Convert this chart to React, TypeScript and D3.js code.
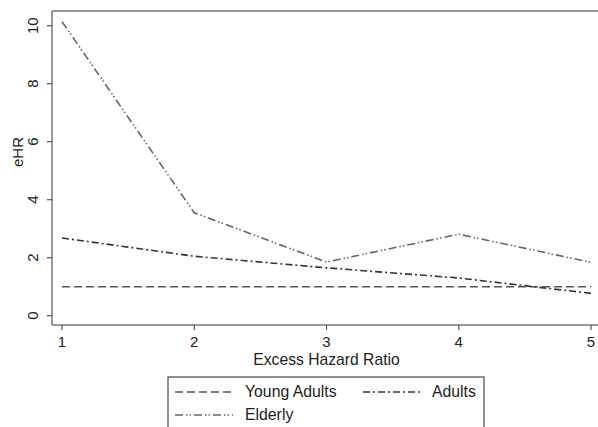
import React from "react";
import * as d3 from "d3";

const xTicks = [1, 2, 3, 4, 5];
const yTicks = [0, 2, 4, 6, 8, 10];
const xValues = [1, 2, 3, 4, 5];
const youngAdults = [1.0, 1.0, 1.0, 1.0, 1.0];
const adults = [2.68, 2.05, 1.65, 1.3, 0.77];
const elderly = [10.14, 3.55, 1.85, 2.81, 1.84];

const seriesNames = ["Young Adults", "Adults", "Elderly"];

export default function App() {
  const W = 598, H = 427;
  const x = d3.scaleLinear().domain([1, 5]).range([62, 591]);
  const y = d3.scaleLinear().domain([0, 10]).range([315.7, 25.7]);
  const line = d3.line<number>().x((_, i) => x(xValues[i])).y((d) => y(d));
  const font = "'Liberation Sans', Arial, Helvetica, sans-serif";
  const styles = [
    { dash: "8,4", color: "#555" },
    { dash: "7,3,2,3", color: "#333" },
    { dash: "8,3,1.5,2,1.5,3", color: "#666" },
  ];
  const data = [youngAdults, adults, elderly];
  const left = 52, top = 11, bottom = 325, right = 598;
  return (
    <svg width={W} height={H} style={{ position: "absolute", left: 0, top: 0, background: "#fff" }}>
      <rect x={0} y={0} width={W} height={H} fill="#fff" />
      {/* frame */}
      <line x1={left} x2={right} y1={top} y2={top} stroke="#777" strokeWidth={1.5} />
      <line x1={left} x2={left} y1={top} y2={bottom} stroke="#777" strokeWidth={1.5} />
      <line x1={left} x2={right} y1={bottom} y2={bottom} stroke="#777" strokeWidth={1.5} />
      {yTicks.map((t) => (
        <g key={"y" + t}>
          <line x1={left - 5} x2={left} y1={y(t)} y2={y(t)} stroke="#555" strokeWidth={1.2} />
          <text
            transform={`translate(${left - 14},${y(t)}) rotate(-90)`}
            textAnchor="middle"
            fontFamily={font}
            fontSize={15}
            fill="#222"
          >
            {t}
          </text>
        </g>
      ))}
      {xTicks.map((t) => (
        <g key={"x" + t}>
          <line x1={x(t)} x2={x(t)} y1={bottom} y2={bottom + 5} stroke="#555" strokeWidth={1.2} />
          <text x={x(t)} y={bottom + 22} textAnchor="middle" fontFamily={font} fontSize={15} fill="#222">
            {t}
          </text>
        </g>
      ))}
      <text
        transform={`translate(23,152) rotate(-90)`}
        textAnchor="middle"
        fontFamily={font}
        fontSize={15}
        fill="#222"
      >
        eHR
      </text>
      <text x={x(3)} y={bottom + 40} textAnchor="middle" fontFamily={font} fontSize={15.7} fill="#222">
        Excess Hazard Ratio
      </text>
      {data.map((d, i) => (
        <path
          key={seriesNames[i]}
          d={line(d) || ""}
          fill="none"
          stroke={styles[i].color}
          strokeWidth={1.6}
          strokeDasharray={styles[i].dash}
        />
      ))}
      {/* legend */}
      <rect x={168} y={377} width={316} height={60} fill="#fff" stroke="#555" strokeWidth={1.3} />
      {[
        { i: 0, lx: 175, ly: 392, tx: 245 },
        { i: 1, lx: 363, ly: 392, tx: 432 },
        { i: 2, lx: 175, ly: 415, tx: 245 },
      ].map((e) => (
        <g key={"leg" + e.i}>
          <line
            x1={e.lx}
            x2={e.lx + 58}
            y1={e.ly}
            y2={e.ly}
            stroke={styles[e.i].color}
            strokeWidth={1.6}
            strokeDasharray={styles[e.i].dash}
          />
          <text x={e.tx} y={e.ly + 5} fontFamily={font} fontSize={15.8} fill="#222">
            {seriesNames[e.i]}
          </text>
        </g>
      ))}
    </svg>
  );
}
